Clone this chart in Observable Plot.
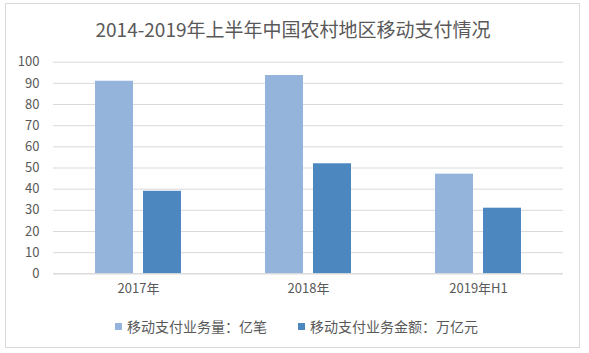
<!DOCTYPE html>
<html>
<head>
<meta charset="utf-8">
<script src="https://cdn.jsdelivr.net/npm/d3@7"></script>
<script src="https://cdn.jsdelivr.net/npm/@observablehq/plot@0.6"></script>
<style>
  html, body { margin: 0; padding: 0; background: #fff; }
  #wrap { position: relative; width: 589px; height: 353px; overflow: hidden; font-family: "Noto Sans CJK SC", "Noto Sans", sans-serif; }
  #frame { position: absolute; left: 5px; top: 3px; width: 575px; height: 345px; border: 1px solid #d9d9d9; box-sizing: border-box; pointer-events: none; }
  #title { position: absolute; left: 0; top: 16px; width: 586px; text-align: center; font-size: 19px; line-height: 26px; color: #595959; }
  #chart { position: absolute; left: 0; top: 40px; }
  #legend { position: absolute; left: 0; top: 315px; width: 589px; font-size: 14px; line-height: 22px; color: #595959; }
  .item { position: absolute; top: 0; white-space: nowrap; }
  .sw { display: inline-block; width: 7px; height: 7px; margin-right: 5px; vertical-align: 2px; }
</style>
</head>
<body>
<div id="wrap">
  <div id="title"></div>
  <div id="chart"></div>
  <div id="legend"></div>
  <div id="frame"></div>
</div>
<script>
const titleText = "2014-2019年上半年中国农村地区移动支付情况";
const categories = ["2017年", "2018年", "2019年H1"];
const seriesNames = ["移动支付业务量：亿笔", "移动支付业务金额：万亿元"];
const volume = [91, 93.7, 47.1];
const amount = [39, 52, 31];
const colors = ["#95B4DC", "#4C87C0"];
const yTicks = [0, 10, 20, 30, 40, 50, 60, 70, 80, 90, 100];

const data = [];
categories.forEach((c, i) => {
  data.push({cat: c, series: seriesNames[0], value: volume[i]});
  data.push({cat: c, series: seriesNames[1], value: amount[i]});
});

document.getElementById("title").textContent = titleText;

const fontFam = '"Noto Sans CJK SC", "Noto Sans", sans-serif';
const chart = Plot.plot({
  width: 589,
  height: 265,
  marginLeft: 52,
  marginRight: 26,
  marginTop: 21.7,
  marginBottom: 31.7,
  style: {fontFamily: fontFam, fontSize: "13px", color: "#595959", background: "transparent"},
  fx: {domain: categories, padding: 0, label: null, axis: "bottom", tickSize: 0, tickPadding: 10},
  x: {domain: seriesNames, paddingInner: 0.216, paddingOuter: 0.846, axis: null},
  y: {domain: [0, 100], ticks: yTicks, label: null, tickSize: 0, tickPadding: 14},
  color: {domain: seriesNames, range: colors},
  marks: [
    Plot.gridY(yTicks, {stroke: "#d9d9d9", strokeOpacity: 1, strokeWidth: 1}),
    Plot.barY(data, {fx: "cat", x: "series", y: "value", fill: "series"}),
    Plot.ruleY([0], {stroke: "#d9d9d9", strokeWidth: 1})
  ]
});
document.getElementById("chart").appendChild(chart);

const legend = document.getElementById("legend");
const lx = [115, 298];
seriesNames.forEach((s, i) => {
  const it = document.createElement("div");
  it.className = "item";
  it.style.left = lx[i] + "px";
  const sw = document.createElement("span");
  sw.className = "sw";
  sw.style.background = colors[i];
  it.appendChild(sw);
  it.appendChild(document.createTextNode(s));
  legend.appendChild(it);
});
</script>
</body>
</html>
